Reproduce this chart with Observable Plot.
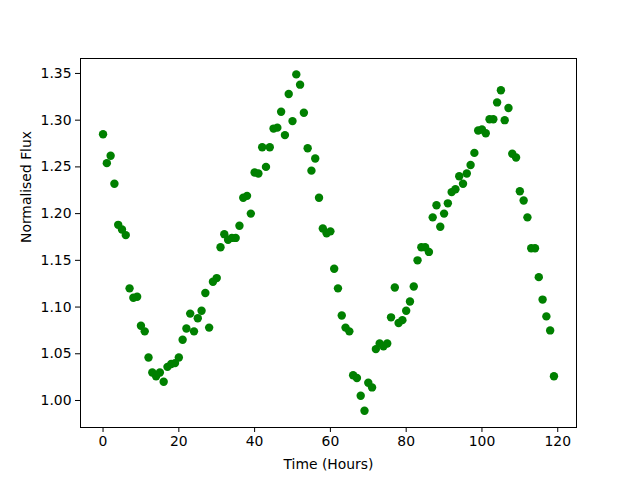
<!DOCTYPE html>
<html>
<head>
<meta charset="utf-8">
<script src="https://cdn.jsdelivr.net/npm/d3@7"></script>
<script src="https://cdn.jsdelivr.net/npm/@observablehq/plot@0.6"></script>
<style>
  html, body { margin: 0; padding: 0; background: #fff; }
  #chart { width: 640px; height: 480px; }
</style>
</head>
<body>
<div id="chart"></div>
<script>
const hours = d3.range(0, 120);
const flux = [
  1.285, 1.254, 1.262, 1.232, 1.188, 1.183, 1.177, 1.120, 1.110, 1.111,
  1.080, 1.074, 1.046, 1.030, 1.026, 1.030, 1.020, 1.036, 1.039, 1.040,
  1.046, 1.065, 1.077, 1.093, 1.074, 1.088, 1.096, 1.115, 1.078, 1.127,
  1.131, 1.164, 1.178, 1.172, 1.174, 1.174, 1.187, 1.217, 1.219, 1.200,
  1.244, 1.243, 1.271, 1.250, 1.271, 1.291, 1.292, 1.309, 1.284, 1.328,
  1.299, 1.349, 1.338, 1.308, 1.270, 1.246, 1.259, 1.217, 1.184, 1.179,
  1.181, 1.141, 1.120, 1.091, 1.078, 1.074, 1.027, 1.024, 1.005, 0.989,
  1.019, 1.014, 1.055, 1.061, 1.058, 1.061, 1.089, 1.121, 1.083, 1.086,
  1.096, 1.106, 1.122, 1.150, 1.164, 1.164, 1.159, 1.196, 1.209, 1.186,
  1.200, 1.211, 1.223, 1.226, 1.240, 1.232, 1.243, 1.252, 1.265, 1.289,
  1.290, 1.286, 1.301, 1.301, 1.319, 1.332, 1.300, 1.313, 1.264, 1.260,
  1.224, 1.214, 1.196, 1.163, 1.163, 1.132, 1.108, 1.090, 1.075, 1.026
];
const xTicks = [0, 20, 40, 60, 80, 100, 120];
const yTicks = [1.00, 1.05, 1.10, 1.15, 1.20, 1.25, 1.30, 1.35];
const xLabel = "Time (Hours)";
const yLabel = "Normalised Flux";

const data = hours.map((h, i) => ({hour: h, flux: flux[i]}));
const fs = 13.9;

const chart = Plot.plot({
  width: 640,
  height: 480,
  marginLeft: 80,
  marginRight: 64,
  marginTop: 58,
  marginBottom: 53,
  style: {fontFamily: "DejaVu Sans", fontSize: fs + "px", color: "#000", background: "#fff"},
  x: {domain: [-5.95, 124.95], ticks: xTicks, tickSize: 5, tickPadding: 4, label: null, tickFormat: d3.format("d")},
  y: {domain: [0.9711, 1.366], ticks: yTicks, tickSize: 5, tickPadding: 4, label: null, tickFormat: d3.format(".2f")},
  marks: [
    Plot.frame({stroke: "#000", strokeWidth: 1}),
    Plot.axisX({ticks: xTicks, tickSize: 5, tickPadding: 4, tickFormat: d3.format("d"), label: null, fontSize: fs}),
    Plot.axisY({ticks: yTicks, tickSize: 5, tickPadding: 4, tickFormat: d3.format(".2f"), label: null, fontSize: fs}),
    Plot.dot(data, {x: "hour", y: "flux", r: 4.2, fill: "#008000", stroke: "none"}),
    Plot.text([xLabel], {frameAnchor: "bottom", lineAnchor: "middle", dy: 37, fontSize: fs, fill: "#000"}),
    Plot.text([yLabel], {frameAnchor: "left", lineAnchor: "middle", dx: -54, rotate: -90, fontSize: fs, fill: "#000"})
  ]
});
document.getElementById("chart").appendChild(chart);
</script>
</body>
</html>
